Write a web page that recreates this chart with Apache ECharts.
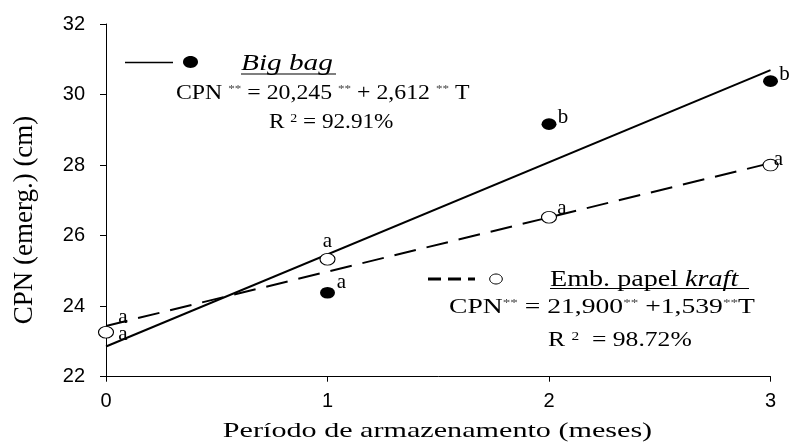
<!DOCTYPE html>
<html>
<head>
<meta charset="utf-8">
<script src="https://cdn.jsdelivr.net/npm/echarts@6/dist/echarts.min.js"></script>
<style>
  html, body { margin: 0; padding: 0; background: #fff; }
  #chart { width: 794px; height: 447px; }
</style>
</head>
<body>
<div id="chart"></div>
<script>
// Storage period (months) and seedling length at emergence (cm)
const months = [0, 1, 2, 3];
const bigBagValues = [23.26, 24.38, 29.16, 30.38];
const kraftValues = [23.26, 25.33, 26.52, 28.00];
const bigBagLetters = ['a', 'a', 'b', 'b'];
const kraftLetters = ['a', 'a', 'a', 'a'];

// Fitted models CPN = b0 + b1*T, with T = months + 1
const bigBagFit = [20.245, 2.612];
const kraftFit = [21.900, 1.539];
const bigBagR2 = 92.91;
const kraftR2 = 98.72;

const xTicks = [0, 1, 2, 3];
const yTicks = [22, 24, 26, 28, 30, 32];

const serif = '"Liberation Serif", "Times New Roman", serif';
const sans = '"Liberation Sans", Arial, sans-serif';
const ellipse = 'path://M0,50 A50,50 0 1,1 100,50 A50,50 0 1,1 0,50 Z';

function fitLine(fit) {
  const x0 = xTicks[0], x1 = xTicks[xTicks.length - 1];
  return [[x0, fit[0] + fit[1] * (x0 + 1)], [x1, fit[0] + fit[1] * (x1 + 1)]];
}
function pointData(values, letters, offsets) {
  return months.map((m, i) => ({
    value: [m, values[i]],
    label: { formatter: letters[i], offset: offsets[i] }
  }));
}
function comma(v, d) { return v.toFixed(d).replace('.', ','); }

const richBase = {
  n: { fontSize: 20, fontFamily: serif, fill: '#000' },
  s: { fontSize: 11, fontFamily: serif, fill: '#444', verticalAlign: 'top' },
  t: { fontSize: 12, fontFamily: serif, fill: '#000', verticalAlign: 'top' }
};
// Horizontally widened text block, anchored at its left edge
function text(x, y, str, sx, extra) {
  return Object.assign({
    type: 'text', x: x, y: y, scaleX: sx, silent: true,
    style: { text: str, rich: richBase, align: 'left', verticalAlign: 'middle' }
  }, extra || {});
}

const graphic = [
  // Big bag key
  { type: 'line', shape: { x1: 125, y1: 62.5, x2: 173, y2: 62.5 }, style: { stroke: '#000', lineWidth: 1.5 } },
  { type: 'ellipse', shape: { cx: 190.5, cy: 62, rx: 7.5, ry: 5.9 }, style: { fill: '#000' } },
  text(241, 64, 'Big bag', 1.22, { style: { text: 'Big bag', font: 'italic 24px ' + serif, fill: '#000', align: 'left', verticalAlign: 'middle' } }),
  { type: 'line', shape: { x1: 241, y1: 74, x2: 336, y2: 74 }, style: { stroke: '#000', lineWidth: 1.2 } },
  text(176, 94, '{n|CPN }{s|**}{n| = ' + comma(bigBagFit[0], 3) + ' }{s|**}{n| + ' + comma(bigBagFit[1], 3) + ' }{s|**}{n| T}', 1.19),
  text(269, 123, '{n|R }{t|2}{n| = ' + bigBagR2.toFixed(2) + '%}', 1.16),

  // Kraft paper key
  { type: 'line', shape: { x1: 428, y1: 279, x2: 475, y2: 279 }, style: { stroke: '#000', lineWidth: 3, lineDash: [13, 7] } },
  { type: 'ellipse', shape: { cx: 496, cy: 279, rx: 6.3, ry: 5 }, style: { fill: '#fff', stroke: '#000', lineWidth: 1 } },
  text(550, 280, '{n|Emb. papel }{i|kraft}', 1.25, {
    style: { text: '{n|Emb. papel }{i|kraft}', align: 'left', verticalAlign: 'middle',
      rich: { n: { fontSize: 22.5, fontFamily: serif, fill: '#000' }, i: { fontSize: 22.5, fontFamily: serif, fontStyle: 'italic', fill: '#000' } } }
  }),
  { type: 'line', shape: { x1: 550, y1: 288.5, x2: 749, y2: 288.5 }, style: { stroke: '#000', lineWidth: 1.2 } },
  text(449, 308, '{n|CPN}{s|**}{n| = ' + comma(kraftFit[0], 3) + '}{s|**}{n| +' + comma(kraftFit[1], 3) + '}{s|**}{n|T}', 1.38),
  text(548, 341, '{n|R }{t|2}{n|  = ' + kraftR2.toFixed(2) + '%}', 1.28),

  // Axis titles
  { type: 'text', x: 437.5, y: 431, scaleX: 1.37, silent: true,
    style: { text: 'Período de armazenamento (meses)', font: '22px ' + serif, fill: '#000', align: 'center', verticalAlign: 'middle' } },
  { type: 'text', x: 25, y: 220, rotation: Math.PI / 2, silent: true,
    style: { text: 'CPN (emerg.) (cm)', font: '27px ' + serif, fill: '#000', align: 'center', verticalAlign: 'middle' } }
];

const chart = echarts.init(document.getElementById('chart'), null, { renderer: 'canvas' });
chart.setOption({
  animation: false,
  backgroundColor: '#fff',
  grid: { left: 106, right: 23.5, top: 24, bottom: 70.3, containLabel: false, outerBoundsMode: 'none' },
  xAxis: {
    type: 'value', min: xTicks[0], max: xTicks[xTicks.length - 1], interval: 1,
    axisLine: { lineStyle: { color: '#000', width: 1 } },
    axisTick: { show: true, inside: false, length: 5, lineStyle: { color: '#000' } },
    axisLabel: { color: '#000', fontFamily: sans, fontSize: 20, margin: 15 },
    splitLine: { show: false }
  },
  yAxis: {
    type: 'value', min: yTicks[0], max: yTicks[yTicks.length - 1], interval: 2,
    axisLine: { show: true, lineStyle: { color: '#000', width: 1 } },
    axisTick: { show: true, inside: false, length: 6, lineStyle: { color: '#000' } },
    axisLabel: { color: '#000', fontFamily: sans, fontSize: 20, margin: 21 },
    splitLine: { show: false }
  },
  graphic: graphic,
  series: [
    { name: 'Big bag (ajuste)', type: 'line', data: fitLine(bigBagFit), symbol: 'none', silent: true,
      lineStyle: { color: '#000', width: 2 }, z: 2 },
    { name: 'Emb. papel kraft (ajuste)', type: 'line', data: fitLine(kraftFit), symbol: 'none', silent: true,
      lineStyle: { color: '#000', width: 2, type: [22, 11] }, z: 2 },
    { name: 'Big bag', type: 'scatter', symbol: ellipse, symbolSize: [15, 11.7], z: 3,
      itemStyle: { color: '#000', opacity: 1 },
      label: { show: true, position: 'inside', color: '#000', fontFamily: serif, fontSize: 21 },
      data: pointData(bigBagValues, bigBagLetters, [[17, 2], [14, -10], [14, -7], [14, -7]]) },
    { name: 'Emb. papel kraft', type: 'scatter', symbol: ellipse, symbolSize: [15, 11.7], z: 4,
      itemStyle: { color: '#fff', borderColor: '#000', borderWidth: 1, opacity: 1 },
      label: { show: true, position: 'inside', color: '#000', fontFamily: serif, fontSize: 21 },
      data: pointData(kraftValues, kraftLetters, [[17, -15], [0, -18], [13, -9], [8, -6]]) }
  ]
});
</script>
</body>
</html>
